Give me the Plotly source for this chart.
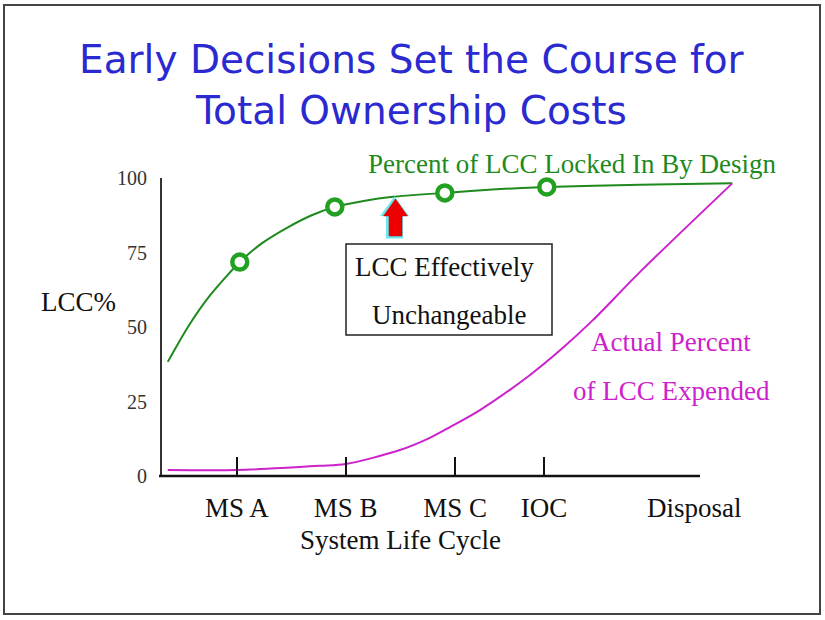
import plotly.graph_objects as go

# ---------------- data ----------------
stage_labels = ["MS A", "MS B", "MS C", "IOC", "Disposal"]
stage_pos = [13.0, 31.9, 50.9, 66.3, 92.4]
milestone_ticks = [13.0, 31.9, 50.9, 66.3]

y_ticks = [0, 25, 50, 75, 100]

locked_x = [1.0, 4.5, 8.3, 13.5, 17.5, 21.7, 26.0, 30.0, 35.0, 40.1, 49.1, 58.0, 66.8, 83.0, 99.0]
locked_y = [38.3, 50.0, 60.5, 71.8, 78.3, 83.3, 87.5, 90.3, 92.3, 93.7, 95.0, 96.2, 97.0, 97.7, 98.2]

marker_x = [13.5, 30.0, 49.1, 66.8]
marker_y = [71.8, 90.3, 95.0, 97.0]

expended_x = [1.0, 13.0, 27.4, 31.9, 41.3, 46.5, 50.0, 55.2, 63.9, 69.6, 74.8, 83.0, 99.0]
expended_y = [2.0, 2.0, 3.4, 4.0, 8.7, 12.8, 16.4, 22.1, 33.9, 43.0, 52.3, 68.5, 98.2]

GREEN = "#1e8a1e"
MAGENTA = "#cc22cc"
BLUE = "#2a2ad0"
SERIF = "Liberation Serif, Times New Roman, serif"

# plot-area geometry (pixels) used to place decorations
L, R, T, B = 162, 738, 178, 476
W, H = R - L, B - T


def px(xp):
    return (xp - L) / W


def py(yp):
    return (B - yp) / H


fig = go.Figure()

fig.add_trace(go.Scatter(
    x=locked_x, y=locked_y, mode="lines",
    line=dict(color=GREEN, width=2, shape="spline", smoothing=0.6),
    hoverinfo="skip", showlegend=False))

fig.add_trace(go.Scatter(
    x=expended_x, y=expended_y, mode="lines",
    line=dict(color=MAGENTA, width=2, shape="spline", smoothing=0.8),
    hoverinfo="skip", showlegend=False))

fig.add_trace(go.Scatter(
    x=marker_x, y=marker_y, mode="markers",
    marker=dict(size=15, color="white", line=dict(color="#22a022", width=4.5)),
    cliponaxis=False, hoverinfo="skip", showlegend=False))

fig.update_layout(
    width=825, height=620,
    margin=dict(l=L, r=825 - R, t=T, b=620 - B),
    paper_bgcolor="white", plot_bgcolor="white",
    xaxis=dict(
        range=[0, 100], showgrid=False, zeroline=False, showline=False,
        tickvals=stage_pos, ticktext=stage_labels, ticks="",
        ticklabelstandoff=13,
        tickfont=dict(family=SERIF, size=27, color="#111"),
        minor=dict(tickvals=milestone_ticks, ticks="inside", ticklen=19,
                   tickwidth=2, tickcolor="#111"),
    ),
    yaxis=dict(
        range=[0, 100], showgrid=False, zeroline=False,
        showline=True, linecolor="#333", linewidth=2,
        tickvals=y_ticks, ticks="", ticklabelstandoff=9,
        tickfont=dict(family=SERIF, size=20, color="#333"),
    ),
)


def arrow_path(cx, tip, head_base, bottom, hw, sw):
    pts = [(cx, tip), (cx + hw, head_base), (cx + sw, head_base), (cx + sw, bottom),
           (cx - sw, bottom), (cx - sw, head_base), (cx - hw, head_base)]
    return "M " + " L ".join(f"{px(a):.4f},{py(b):.4f}" for a, b in pts) + " Z"


shapes = [
    # x-axis baseline (ends before the plot edge like the original)
    dict(type="line", xref="paper", yref="paper", x0=px(159), x1=px(700), y0=0, y1=0,
         line=dict(color="#111", width=2.5)),
    # text box
    dict(type="rect", xref="paper", yref="paper", x0=px(346), x1=px(552), y0=py(335), y1=py(244),
         line=dict(color="#222", width=1.5), fillcolor="white", layer="below"),
    # outer slide frame
    dict(type="rect", xref="paper", yref="paper", x0=px(4), x1=px(820), y0=py(614), y1=py(5),
         line=dict(color="#444", width=2)),
    # arrow glow + arrow
    dict(type="path", xref="paper", yref="paper",
         path=arrow_path(394.5, 196.5, 216, 238.5, 14.5, 8.5),
         fillcolor="#6ae8f2", line=dict(width=0)),
    dict(type="path", xref="paper", yref="paper",
         path=arrow_path(395.5, 199, 216, 236, 12, 6.5),
         fillcolor="#ee0000", line=dict(color="#cc0000", width=0.5)),
]
fig.update_layout(shapes=shapes)


def label(text, xp, yp, size, color, family=SERIF):
    return dict(text=text, xref="paper", yref="paper", x=px(xp), y=py(yp),
                showarrow=False, xanchor="center", yanchor="middle",
                font=dict(family=family, size=size, color=color))


ann = [
    label("Early Decisions Set the Course for<br>Total Ownership Costs", 412, 85, 39, BLUE,
          family="DejaVu Sans"),
    label("Percent of LCC Locked In By Design", 572, 164, 27, GREEN),
    label("Actual Percent", 671, 342, 27, MAGENTA),
    label("of LCC Expended", 671, 391, 27, MAGENTA),
    label("LCC Effectively", 444, 267, 27, "#111"),
    label("Unchangeable", 449, 315, 27, "#111"),
    label("LCC%", 78, 302, 27, "#111"),
    label("System Life Cycle", 400, 540, 27, "#111"),
]
fig.update_layout(annotations=ann)

fig.write_html("out.html", config={"displayModeBar": False},
               post_script="document.body.style.margin='0';")
